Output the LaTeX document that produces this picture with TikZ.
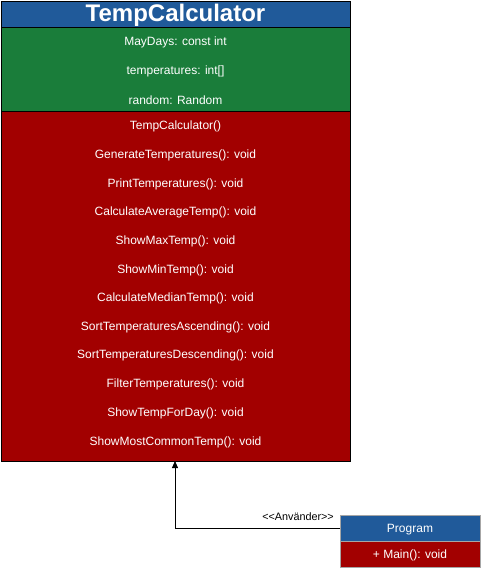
\documentclass[tikz,border=0pt]{standalone}
\usepackage{fontspec}
\setmainfont{Liberation Sans}
\usetikzlibrary{arrows.meta}
\definecolor{hdrblue}{HTML}{205A9A}
\definecolor{fgreen}{HTML}{1A7D3A}
\definecolor{mred}{HTML}{A20000}
\tikzset{
  member/.style={text=white, font=\fontsize{12}{14}\selectfont, anchor=center, inner sep=0pt},
  title/.style={text=white, font=\bfseries\fontsize{24}{27}\selectfont, anchor=center, inner sep=0pt},
  lbl/.style={text=black, font=\fontsize{10.8}{12}\selectfont, inner sep=0pt},
  conn/.style={draw=black, line width=0.8pt, -{Triangle[length=7pt,width=6pt]}}
}
\begin{document}
\begin{tikzpicture}[x=1pt,y=-1pt]
\useasboundingbox (0,0) rectangle (481,571);
% main class
\fill[hdrblue] (1,1) rectangle (350,27);
\fill[fgreen] (1,27) rectangle (350,111);
\fill[mred] (1,111) rectangle (350,461);
\draw[line width=0.8pt] (1,1) rectangle (350,461);
\draw[line width=0.8pt] (1,27) -- (350,27);
\draw[line width=0.8pt] (1,111) -- (350,111);
\node[title] (tc) at (175.5,15) {TempCalculator};
\node[member] (a1) at (175.5,42.5) {MayDays: const int};
\node[member] (a2) at (175.5,71.5) {temperatures: int[]};
\node[member] (a3) at (175.5,100.5) {random: Random};
\node[member] (m1) at (175.5,126.5) {TempCalculator()};
\node[member] (m2) at (175.5,155.5) {GenerateTemperatures(): void};
\node[member] (m3) at (175.5,184.5) {PrintTemperatures(): void};
\node[member] (m4) at (175.5,212.5) {CalculateAverageTemp(): void};
\node[member] (m5) at (175.5,241.5) {ShowMaxTemp(): void};
\node[member] (m6) at (175.5,270.5) {ShowMinTemp(): void};
\node[member] (m7) at (175.5,298.5) {CalculateMedianTemp(): void};
\node[member] (m8) at (175.5,327.5) {SortTemperaturesAscending(): void};
\node[member] (m9) at (175.5,355.5) {SortTemperaturesDescending(): void};
\node[member] (m10) at (175.5,384.5) {FilterTemperatures(): void};
\node[member] (m11) at (175.5,413.5) {ShowTempForDay(): void};
\node[member] (m12) at (175.5,442.5) {ShowMostCommonTemp(): void};
\coordinate (mainbottom) at (175,461);
% program class
\fill[hdrblue] (340,515) rectangle (480,541);
\fill[mred] (340,541) rectangle (480,567);
\draw[black!35, line width=0.8pt] (340,515) rectangle (480,567);
\draw[black!35, line width=0.8pt] (340,541) -- (480,541);
\node[member] (prog) at (410,529.5) {Program};
\node[member] (pmain) at (410,555.5) {+ Main(): void};
\coordinate (progleft) at (340,528);
\coordinate (bend) at (175,528);
% connector
\draw[conn] (progleft) -- (bend) -- (mainbottom);
\node[lbl, anchor=east] (uses) at (334,517) {<{}<Använder>{}>};
\end{tikzpicture}
\end{document}
